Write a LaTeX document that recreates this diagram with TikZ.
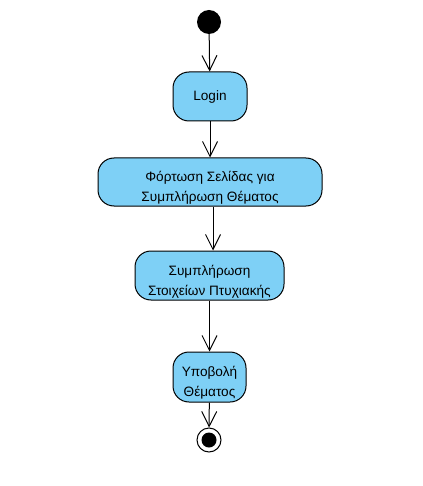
\documentclass[tikz,border=0pt]{standalone}
\usepackage{fontspec}
\setmainfont{Liberation Sans}
\usetikzlibrary{arrows.meta}
\definecolor{actblue}{RGB}{126,208,246}
\tikzset{
  action/.style={draw=black, fill=actblue, line width=1pt, rounded corners=16pt,
    align=center, inner sep=0pt, font=\fontsize{13.6}{20}\selectfont,
    text height=40pt, text depth=1pt},
  flow/.style={black, line width=1pt, -{Straight Barb[length=15pt,width=15pt,line width=1pt]}},
  startdot/.style={circle, fill=black, inner sep=0pt, minimum size=24pt},
  enddot/.style={circle, draw=black, fill=white, line width=1pt, inner sep=0pt, minimum size=24pt}
}
\begin{document}
\begin{tikzpicture}[x=1pt,y=-1pt]
\useasboundingbox (0,0) rectangle (422,486);
\node[startdot] (start) at (209,22) {};
\node[action, minimum width=74pt, minimum height=49pt, text height=10pt, text depth=1pt] (login) at (210,96.5) {Login};
\node[action, minimum width=224pt, minimum height=48pt] (load) at (210,182) {Φόρτωση Σελίδας για\\Συμπλήρωση Θέματος};
\node[action, minimum width=149pt, minimum height=49pt] (fill) at (209.5,275.5) {Συμπλήρωση\\Στοιχείων Πτυχιακής};
\node[action, minimum width=73pt, minimum height=50pt] (submit) at (209.5,377) {Υποβολή\\Θέματος};
\node[enddot] (end) at (209,440) {};
\node[circle, fill=black, inner sep=0pt, minimum size=15pt] (endin) at (end) {};
\draw[flow] (start) -- (login);
\draw[flow] (login) -- (load);
\draw[flow] ([xshift=3pt]load.south) -- ([xshift=3.5pt]fill.north);
\draw[flow] (fill) -- (submit);
\draw[flow] (submit) -- (end);
\end{tikzpicture}
\end{document}
